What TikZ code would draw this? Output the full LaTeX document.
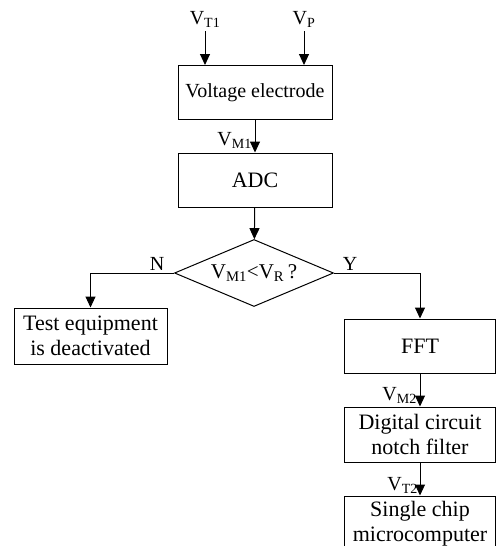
\documentclass[tikz,border=0pt]{standalone}
\usepackage{fontspec}
\setmainfont{Liberation Serif}
\usepackage{tikz}
\usetikzlibrary{positioning,calc}
\usetikzlibrary{arrows.meta,shapes.geometric}
\tikzset{
  blk/.style={rectangle,draw=black,line width=1pt,minimum width=154pt,minimum height=54pt,
    inner sep=2pt,align=center,font=\fontsize{22}{25}\selectfont},
  cond/.style={diamond,draw=black,line width=1pt,minimum width=159pt,minimum height=67pt,
    inner sep=0pt,aspect=2.4,font=\fontsize{21}{25}\selectfont},
  arr/.style={draw=black,line width=1pt,-{Triangle[length=11pt,width=10pt]}},
  lbl/.style={inner sep=0pt,font=\fontsize{20}{24}\selectfont},
}

\begin{document}
\begin{tikzpicture}[x=1pt,y=-1pt]
\useasboundingbox (0,0) rectangle (496,546);
\coordinate (t1) at (205,31);
\coordinate (tp) at (304,31);
\node[blk,font=\fontsize{20}{24}\selectfont] (elec) at (255,92.5) {Voltage electrode};
\node[blk] (adc) at (255,180) {ADC};
\node[cond] (dec) at (254,273) {V\textsubscript{M1}<V\textsubscript{R}\,?};
\node[blk,minimum width=153pt,minimum height=56pt] (test) at (90.5,336) {Test equipment\\is deactivated};
\node[blk,minimum width=151pt] (fft) at (420,346) {FFT};
\node[blk,minimum width=151pt,minimum height=55pt] (notch) at (420,434.5) {Digital circuit\\notch filter};
\node[blk,minimum width=151pt,minimum height=56pt] (mcu) at (420,524) {Single chip\\microcomputer};
\node[lbl,above=3pt of t1] (vT1) {V\textsubscript{T1}};
\node[lbl,above=3pt of tp] (vP) {V\textsubscript{P}};
\draw[arr] (t1) -- (t1 |- elec.north);
\draw[arr] (tp) -- (tp |- elec.north);
\draw[arr] (elec) -- (adc);
\draw[arr] (adc) -- (dec);
\draw[arr] (dec.west) -| (test.north);
\draw[arr] (dec.east) -| (fft.north);
\draw[arr] (fft) -- (notch);
\draw[arr] (notch) -- (mcu);
\node[lbl,anchor=south east] (vM1) at (252,149) {V\textsubscript{M1}};
\node[lbl,anchor=south east] (vM2) at (417,404) {V\textsubscript{M2}};
\node[lbl,anchor=south east] (vT2) at (418,494) {V\textsubscript{T2}};
\node[lbl,anchor=south] (nlab) at (157,271) {N};
\node[lbl,anchor=south] (ylab) at (350,271) {Y};
\end{tikzpicture}
\end{document}
